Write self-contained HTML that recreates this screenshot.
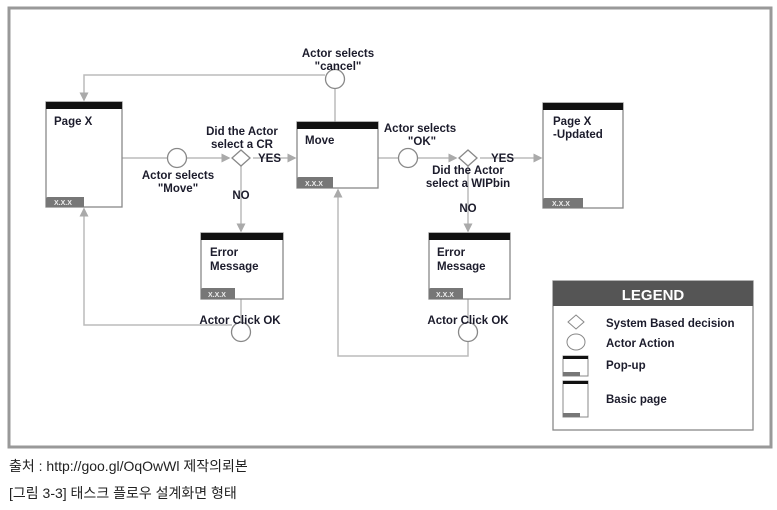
<!DOCTYPE html>
<html><head><meta charset="utf-8"><style>
body{margin:0;background:#fff;width:777px;height:505px;overflow:hidden}
svg text{font-family:"Liberation Sans","Noto Sans CJK KR",sans-serif}
.b{font-weight:bold;font-size:11.5px;fill:#1c1c2c}
.t{font-weight:bold;font-size:7px;fill:#eee}
</style></head><body>
<svg width="777" height="505" xmlns="http://www.w3.org/2000/svg">
<defs><marker id="a" markerWidth="6" markerHeight="6" refX="5" refY="3" orient="auto"><path d="M0,0L6,3L0,6z" fill="#aaa"/></marker></defs>
<rect x="9" y="8" width="762" height="439" fill="#fff" stroke="#999" stroke-width="3"/>
<g stroke="#bbb" stroke-width="1.5" fill="none">
<path d="M122,158H167"/><path d="M187,158H229" marker-end="url(#a)"/><path d="M253,158H295" marker-end="url(#a)"/>
<path d="M241,166V231" marker-end="url(#a)"/>
<path d="M335,122V88"/><path d="M325,75H84V100" marker-end="url(#a)"/>
<path d="M241,299V323"/><path d="M232,325H84V209" marker-end="url(#a)"/>
<path d="M378,158H398"/><path d="M418,158H456" marker-end="url(#a)"/><path d="M480,158H541" marker-end="url(#a)"/>
<path d="M468,166V231" marker-end="url(#a)"/>
<path d="M468,299V323"/><path d="M468,341V356H338V190" marker-end="url(#a)"/>
</g>
<g stroke="#888" stroke-width="1.3" fill="#fff">
<circle cx="177" cy="158" r="9.5"/><circle cx="335" cy="79" r="9.5"/><circle cx="408" cy="158" r="9.5"/>
<circle cx="241" cy="332" r="9.5"/><circle cx="468" cy="332" r="9.5"/>
<path d="M241,150L250,158L241,166L232,158z"/><path d="M468,150L477,158L468,166L459,158z"/>
</g>
<g stroke="#888" stroke-width="1.3" fill="#fff">
<rect x="46" y="102" width="76" height="105"/><rect x="297" y="122" width="81" height="66"/>
<rect x="201" y="233" width="82" height="66"/><rect x="429" y="233" width="81" height="66"/>
<rect x="543" y="103" width="80" height="105"/>
</g>
<g fill="#111">
<rect x="46" y="102" width="76" height="7"/><rect x="297" y="122" width="81" height="7"/>
<rect x="201" y="233" width="82" height="7"/><rect x="429" y="233" width="81" height="7"/>
<rect x="543" y="103" width="80" height="7"/>
</g>
<g fill="#777">
<path d="M46,207V199Q46,197 48,197H84V207z"/><path d="M297,188V179Q297,177 299,177H333V188z"/>
<path d="M201,299V290Q201,288 203,288H235V299z"/><path d="M429,299V290Q429,288 431,288H463V299z"/>
<path d="M543,208V200Q543,198 545,198H583V208z"/>
</g>
<text class="t" x="54" y="205">X.X.X</text><text class="t" x="305" y="186">X.X.X</text>
<text class="t" x="208" y="297">X.X.X</text><text class="t" x="436" y="297">X.X.X</text><text class="t" x="552" y="206">X.X.X</text>
<text class="b" x="54" y="125">Page X</text><text class="b" x="305" y="144">Move</text>
<text class="b" x="210" y="256">Error</text><text class="b" x="210" y="270">Message</text>
<text class="b" x="437" y="256">Error</text><text class="b" x="437" y="270">Message</text>
<text class="b" x="553" y="125">Page X</text><text class="b" x="553" y="138">-Updated</text>
<g class="b" text-anchor="middle">
<text x="338" y="57">Actor selects</text><text x="338" y="70">"cancel"</text>
<text x="242" y="135">Did the Actor</text><text x="242" y="148">select a CR</text>
<text x="178" y="179">Actor selects</text><text x="178" y="192">"Move"</text>
<text x="241" y="199">NO</text><text x="468" y="212">NO</text>
<text x="420" y="132">Actor selects</text><text x="422" y="145">"OK"</text>
<text x="468" y="174">Did the Actor</text><text x="468" y="187">select a WIPbin</text>
<text x="240" y="324">Actor Click OK</text><text x="468" y="324">Actor Click OK</text>
</g>
<text class="b" x="258" y="162">YES</text><text class="b" x="491" y="162">YES</text>
<rect x="553" y="281" width="200" height="149" fill="#fff" stroke="#888" stroke-width="1.3"/>
<rect x="553" y="281" width="200" height="25" fill="#555"/>
<text x="653" y="300" text-anchor="middle" font-weight="bold" font-size="15" fill="#fff">LEGEND</text>
<path d="M576,315L584,322L576,329L568,322z" fill="#fff" stroke="#888"/>
<ellipse cx="576" cy="342" rx="9" ry="8" fill="#fff" stroke="#888"/>
<rect x="563" y="356" width="25" height="20" fill="#fff" stroke="#888"/><rect x="563" y="356" width="25" height="3" fill="#111"/><rect x="563" y="372" width="17" height="4" fill="#777"/>
<rect x="563" y="381" width="25" height="36" fill="#fff" stroke="#888"/><rect x="563" y="381" width="25" height="3" fill="#111"/><rect x="563" y="413" width="17" height="4" fill="#777"/>
<text class="b" x="606" y="327">System Based decision</text>
<text class="b" x="606" y="347">Actor Action</text>
<text class="b" x="606" y="369">Pop-up</text>
<text class="b" x="606" y="403">Basic page</text>
<text x="9" y="471" font-size="14" fill="#222">출처 : http://goo.gl/OqOwWl 제작의뢰본</text>
<text x="9" y="498" font-size="14" fill="#222">[그림 3-3] 태스크 플로우 설계화면 형태</text>
</svg>
</body></html>
